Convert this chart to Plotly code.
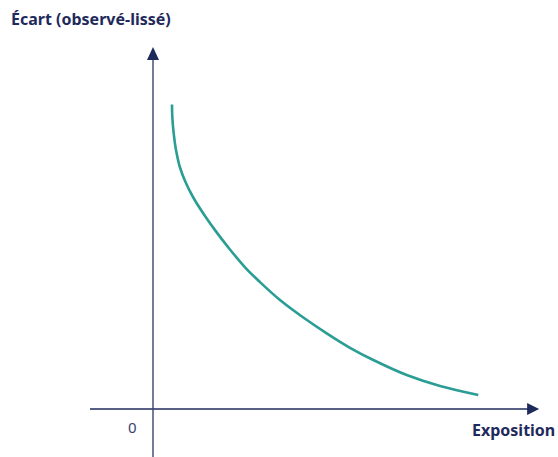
import plotly.graph_objects as go

# Data (arbitrary units; origin at 0,0)
exposition = [0.633, 0.643, 0.69, 0.767, 0.9, 1.083, 1.333, 1.677, 2.067, 2.51, 3.067, 3.567,
              4.233, 5.01, 5.79, 6.567, 7.343, 8.457, 9.567, 10.843]
ecart = [10.15, 9.743, 9.19, 8.633, 8.05, 7.567, 7.067, 6.517, 5.963, 5.387, 4.724, 4.23,
         3.633, 3.05, 2.523, 2.04, 1.633, 1.133, 0.767, 0.467]

y_label = "Écart (observé-lissé)"
x_label = "Exposition"
origin_label = "0"

NAVY = "#1f2a5c"
TEAL = "#2a9d94"

fig = go.Figure()
fig.add_trace(go.Scatter(x=exposition, y=ecart, mode="lines",
                         line=dict(color=TEAL, width=2.6, shape="spline", smoothing=1.0),
                         hoverinfo="skip", showlegend=False))

# axes as arrow lines
fig.add_shape(type="line", x0=-2.1, x1=12.5, y0=0, y1=0, line=dict(color=NAVY, width=1.4))
fig.add_shape(type="line", x0=0, x1=0, y0=-1.6, y1=11.65, line=dict(color="#3d4470", width=1.4))
# arrowheads (pixel-sized)
fig.add_shape(type="path", xsizemode="pixel", ysizemode="pixel", xanchor=12.87, yanchor=0,
              path="M 0,0 L -12,6 L -12,-6 Z", fillcolor=NAVY, line=dict(color=NAVY, width=0))
fig.add_shape(type="path", xsizemode="pixel", ysizemode="pixel", xanchor=0, yanchor=12.07,
              path="M 0,0 L -6,-13 L 6,-13 Z", fillcolor=NAVY, line=dict(color=NAVY, width=0))

fig.add_annotation(text=y_label, xref="paper", yref="paper", x=9/558, y=1-19/457,
                   xanchor="left", yanchor="middle", showarrow=False,
                   font=dict(family="Noto Sans", size=16, color=NAVY, weight="bold"))
fig.add_annotation(text=x_label, xref="paper", yref="paper", x=557/558, y=1-430/457,
                   xanchor="right", yanchor="middle", showarrow=False,
                   font=dict(family="Noto Sans", size=16, color=NAVY, weight="bold"))
fig.add_annotation(text=origin_label, xref="paper", yref="paper", x=132/558, y=1-427/457,
                   xanchor="center", yanchor="middle", showarrow=False,
                   font=dict(family="Noto Sans", size=15, color="#3a4270"))

fig.update_layout(
    width=558, height=457,
    margin=dict(l=0, r=0, t=0, b=0),
    paper_bgcolor="white", plot_bgcolor="white",
    xaxis=dict(range=[-5.1, 13.5], visible=False, fixedrange=True),
    yaxis=dict(range=[-1.6, 409/30], visible=False, fixedrange=True),
)

fig.write_html("out.html", config={"displayModeBar": False},
               post_script="document.body.style.margin='0px';")
